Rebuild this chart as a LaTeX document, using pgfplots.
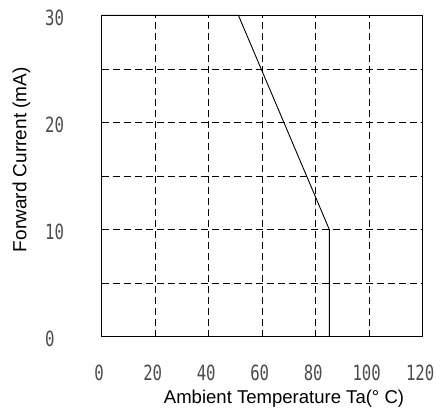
\documentclass[border=0pt]{standalone}
\usepackage{fontspec}
\setmainfont{Liberation Sans}
\newfontfamily\tickfont[FakeStretch=0.75]{DejaVu Sans Mono}
\usepackage{pgfplots}
\pgfplotsset{compat=1.18}

\begin{document}
\begin{tikzpicture}
  % frame of the whole picture: 444 x 414
  \path (-101.7bp,-77.3bp) rectangle (342.3bp,336.7bp);
  \begin{axis}[
      at={(0,0)}, anchor=south west,
      scale only axis,
      width=321bp, height=321.4bp,
      xmin=0, xmax=120,
      ymin=0, ymax=30,
      xtick={0,20,...,120},
      ytick={0,5,...,30},
      yticklabels={0,,10,,20,,30},
      major tick length=0pt,
      grid=major,
      major grid style={black, line width=0.7bp, dash pattern=on 7bp off 4bp},
      axis line style={black, line width=1bp},
      tick label style={font=\fontsize{21}{23}\selectfont\tickfont, text=black!70},
      /pgf/number format/assume math mode=true,
      xticklabel style={anchor=center, yshift=-36.3bp, xshift=-2.5bp},
      yticklabel style={anchor=west, inner sep=0pt, xshift=-56.7bp, yshift=-2.5bp},
      xlabel={Ambient Temperature Ta(° C)},
      ylabel={\mbox{Forward Current (mA)}},
      xlabel style={font=\fontsize{18.6}{22}\selectfont,
        at={(axis description cs:0.568,-0.194)}, anchor=center},
      ylabel style={font=\fontsize{19.1}{22}\selectfont,
        at={(axis description cs:-0.25,0.551)}, anchor=center},
      clip=false,
    ]
    % derating curve
    \addplot[black, line width=0.9bp, mark=none] coordinates {
      (0,30) (51.1,30) (85.1,10) (85.1,0)
    };
  \end{axis}
\end{tikzpicture}
\end{document}
